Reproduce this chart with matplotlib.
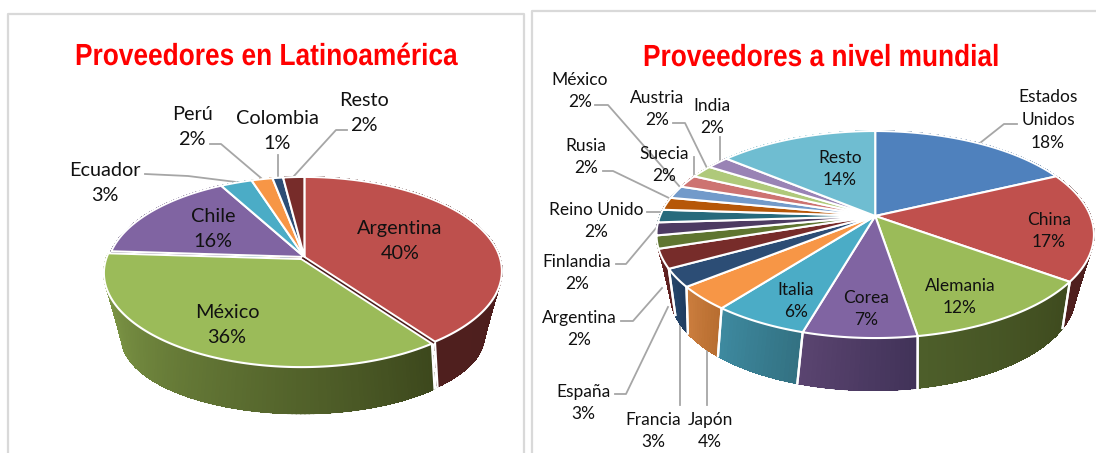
import numpy as np
import matplotlib
matplotlib.use("Agg")
import matplotlib.pyplot as plt
from matplotlib.colors import to_rgb
from matplotlib.patheffects import AbstractPathEffect
from matplotlib.transforms import Affine2D

# Proveedores en Latinoamerica
lat_names = ["Argentina", "México", "Chile", "Ecuador", "Perú", "Colombia", "Resto"]
lat_values = [40, 36, 16, 3, 2, 1, 2]
lat_colors = ["#BE504D", "#9BBB59", "#8064A2", "#4BACC6", "#F79646", "#2C4D75", "#772C2A"]
lat_side_a = ["#4F1F1E", "#8BA74F", "#5A4575", "#357C8E", "#B86F33", "#1F3857", "#561F1E"]
lat_side_b = ["#4A1C1B", "#3C471C", "#4B3A62", "#2E6C7C", "#A8642C", "#1B314C", "#4C1B1A"]

# Proveedores a nivel mundial, the labels show them rounded
world_names = ["Estados\nUnidos", "China", "Alemania", "Corea", "Italia", "Japón", "Francia", "España",
               "Argentina", "Finlandia", "Reino Unido", "Rusia", "México", "Suecia", "Austria", "India", "Resto"]
world_values = [18, 17, 12.4, 7.1, 6, 3.7, 2.8, 3, 2, 2, 2, 2, 2, 2, 2, 2, 14]
world_colors = ["#4F81BD", "#C0504D", "#9BBB59", "#8064A2", "#4BACC6", "#F79646", "#2C4D75", "#772C2A",
                "#5F7530", "#4D3B62", "#276A7C", "#B65708", "#729ACA", "#CD7371", "#AFC97A", "#9983B5", "#6FBDD1"]
world_side_a = ["#3A5F8C", "#4F1F1E", "#4D5E2A", "#5A4470", "#3E8AA0", "#CC7E3E", "#26486D", "#6E2626",
                "#46561F", "#382B48", "#1C4E5B", "#863F06", "#54719A", "#974F4E", "#80945A", "#705F86", "#51A0B5"]
world_side_b = ["#3A5F8C", "#4A1C1B", "#3E4A1E", "#413258", "#337283", "#B86E31", "#1F3C60", "#5A1F1F",
                "#46561F", "#382B48", "#1C4E5B", "#863F06", "#54719A", "#974F4E", "#80945A", "#705F86", "#51A0B5"]

lat_pos = [(400, 241), (227, 325), (213, 229), (105, 183), (192, 127), (277, 131), (364, 113)]
world_pos = [(1048, 120), (1049, 231), (960, 297), (866, 309), (796, 301), (710, 431), (653, 431), (583, 403),
             (579, 329), (577, 273), (596, 221), (586, 157), (580, 91), (664, 165), (657, 109), (712, 117), (840, 169)]

lat_leaders = [[(145, 174), (188, 176), (236, 182)], [(210, 144), (221, 144), (261, 178)],
               [(278, 155), (278, 177)], [(347, 130), (336, 130), (294, 176)]]
world_leaders = [[(595, 105), (608, 105), (680, 187)], [(673, 123), (685, 123), (707, 168)],
                 [(720, 137), (720, 162)], [(694, 157), (694, 177)], [(603, 171), (613, 171), (669, 198)],
                 [(647, 212), (661, 212)], [(616, 264), (626, 264), (657, 227)], [(621, 321), (633, 321), (662, 288)],
                 [(615, 394), (626, 394), (668, 307)], [(680, 405), (680, 325)], [(707, 405), (707, 348)],
                 [(1017, 124), (1004, 124), (980, 143)]]

LABEL_FONT = ["Lato", "DejaVu Sans"]
TITLE_FONT = ["Liberation Sans", "DejaVu Sans"]


class Squeeze(AbstractPathEffect):
    # the title font is a condensed one, narrow the glyphs around the text origin
    def __init__(self, sx):
        super().__init__()
        self.sx = sx

    def draw_path(self, renderer, gc, tpath, affine, rgbFace=None):
        renderer.draw_path(gc, tpath, Affine2D().scale(self.sx, 1) + affine, rgbFace)


def project(theta, cx, cy, a, b, k):
    # circle in the pie plane seen with perspective, theta clockwise from 12 o'clock
    x = np.sin(theta)
    y = np.cos(theta)
    d = 1 + k * y
    return cx + a * x / d, cy - b * y / d


def mix(c1, c2, t):
    c1 = np.array(to_rgb(c1))
    c2 = np.array(to_rgb(c2))
    return tuple(c1 + (c2 - c1) * t)


def pie3d(ax, values, colors, side_a, side_b, top, bottom, shifts=None):
    shifts = shifts or {}
    fr = np.cumsum([0] + list(values)) / sum(values) * 2 * np.pi
    cx, cy = top[0], top[1]

    # side walls first, the top covers whatever is behind it
    quads = []
    for i in range(len(values)):
        dx, dy = shifts.get(i, (0, 0))
        th = np.linspace(fr[i], fr[i + 1], max(int(np.degrees(fr[i + 1] - fr[i])) + 1, 3))
        tx, ty = project(th, *top)
        bx, by = project(th, *bottom)
        tx, ty, bx, by = tx + dx, ty + dy, bx + dx, by + dy
        for j in range(len(th) - 1):
            t = 1 - j / max(len(th) - 2, 1)
            quad = [(tx[j], ty[j]), (tx[j + 1], ty[j + 1]), (bx[j + 1], by[j + 1]), (bx[j], by[j])]
            quads.append((-np.cos(th[j]), quad, mix(side_a[i], side_b[i], t), i))
    for _, quad, col, i in sorted(quads, key=lambda q: q[0]):
        xs, ys = zip(*quad)
        ax.fill(xs, ys, color=col, lw=0.6, antialiased=False, zorder=3)
        # smooth the stepped lower border
        ax.plot(xs[2:], ys[2:], color=col, lw=1.0, zorder=3)

    # white seams on the wall, only where the wall really faces us
    for i in range(len(values)):
        dx, dy = shifts.get(i, (0, 0))
        for f in (fr[i], fr[i + 1]):
            if np.cos(f) < -0.4:
                tx, ty = project(f, *top)
                bx, by = project(f, *bottom)
                ax.plot([tx + dx, bx + dx], [ty + dy, by + dy], color="white", lw=1.6, zorder=4)

    for i in range(len(values)):
        dx, dy = shifts.get(i, (0, 0))
        th = np.linspace(fr[i], fr[i + 1], 120)
        x, y = project(th, *top)
        xs = np.concatenate([[cx], x]) + dx
        ys = np.concatenate([[cy], y]) + dy
        ax.fill(xs, ys, facecolor=colors[i], edgecolor="white", lw=1.5, joinstyle="round", zorder=5)

    # dark cut face seen through the gap of a pulled slice
    for i, (dx, dy) in shifts.items():
        tx, ty = project(fr[i], *top)
        ax.plot([cx + dx / 2, tx + dx / 2], [cy + dy / 2, ty + dy / 2], color=side_b[i - 1], lw=1.1, zorder=6)


def labels(ax, names, values, pos, size, spacing):
    for name, val, (x, y) in zip(names, values, pos):
        ax.text(x, y, f"{name}\n{val:.0f}%", ha="center", va="center", fontsize=size, family=LABEL_FONT,
                color="#111111", linespacing=spacing, zorder=7)


def leaders(ax, lines):
    for line in lines:
        xs, ys = zip(*line)
        ax.plot(xs, ys, color="#A6A6A6", lw=1.3, zorder=2)


fig = plt.figure(figsize=(10.96, 4.53), dpi=100)
ax = fig.add_axes([0, 0, 1, 1])
ax.set_xlim(0, 1096)
ax.set_ylim(453, 0)
ax.axis("off")

# panel frames
ax.plot([8, 8, 524, 524], [453, 14, 14, 453], color="#D9D9D9", lw=1.6, zorder=1)
ax.plot([532, 532, 1096], [453, 11, 11], color="#D9D9D9", lw=1.6, zorder=1)

ax.text(75, 65, "Proveedores en Latinoamérica", ha="left", va="baseline", color="#FF0000",
        fontsize=22, fontweight="bold", family=TITLE_FONT, path_effects=[Squeeze(0.86)])
ax.text(643, 66, "Proveedores a nivel mundial", ha="left", va="baseline", color="#FF0000",
        fontsize=22, fontweight="bold", family=TITLE_FONT, path_effects=[Squeeze(0.86)])

# (centre x, centre y, half width, half height, perspective) of top and bottom circle
pie3d(ax, lat_values, lat_colors, lat_side_a, lat_side_b,
      (304.4, 257, 195.3, 92, 0.149), (304.4, 313, 171.5, 69, 0.3), shifts={1: (-3, 2)})
pie3d(ax, world_values, world_colors, world_side_a, world_side_b,
      (875.2, 216, 215.2, 100.2, 0.179), (873, 266, 193, 87, 0.3))

leaders(ax, lat_leaders)
leaders(ax, world_leaders)
labels(ax, lat_names, lat_values, lat_pos, 14.3, 1.52)
labels(ax, world_names, world_values, world_pos, 12.5, 1.5)

fig.savefig("out.png", dpi=100)
